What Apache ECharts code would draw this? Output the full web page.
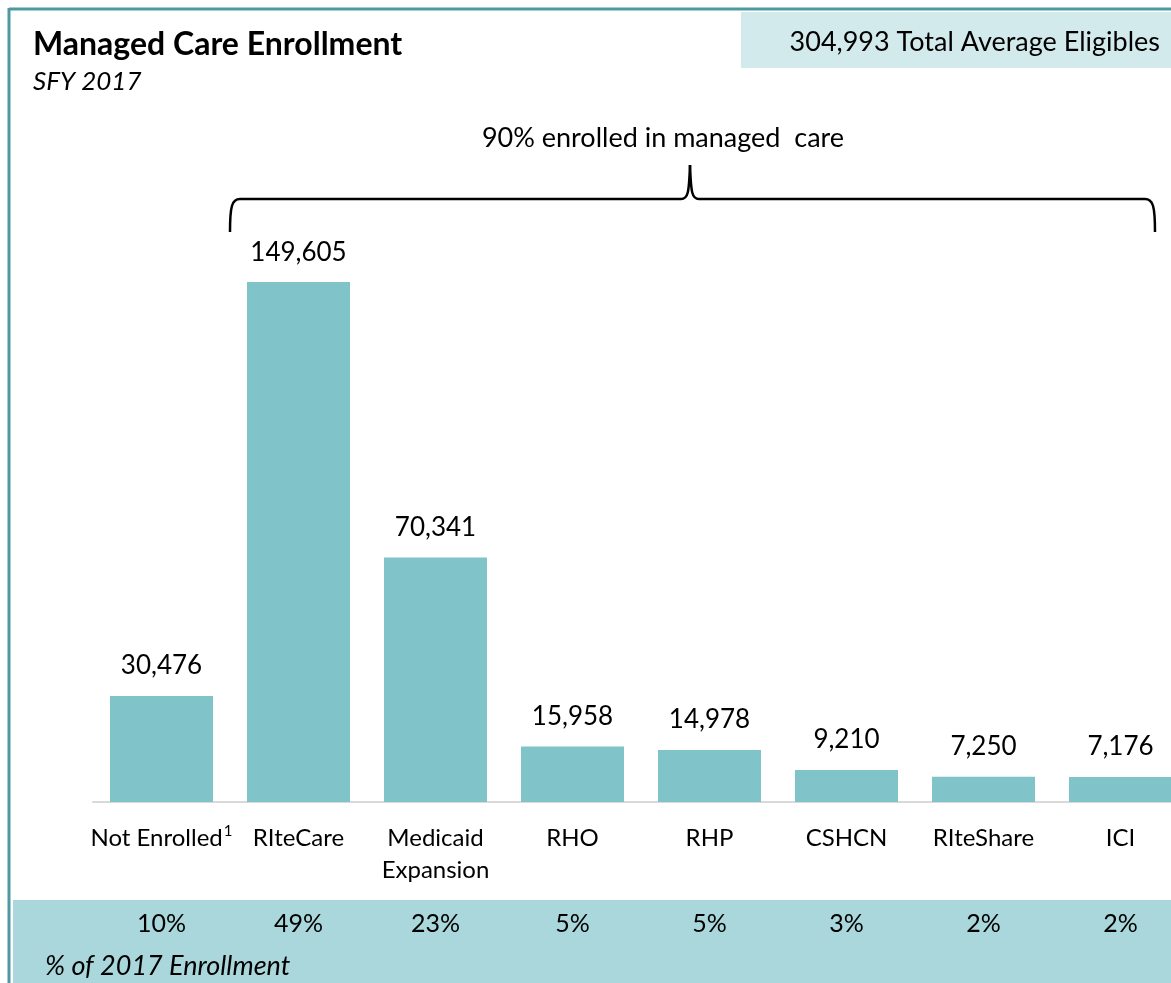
<!DOCTYPE html>
<html><head><meta charset="utf-8">
<script src="https://cdn.jsdelivr.net/npm/echarts@6/dist/echarts.min.js"></script>
<style>html,body{margin:0;padding:0;background:#fff;overflow:hidden;width:1171px;height:983px}#c{width:1189px;height:983px}</style>
</head><body><div id="c"></div>
<script>
var categories = ['Not Enrolled', 'RIteCare', 'Medicaid\nExpansion', 'RHO', 'RHP', 'CSHCN', 'RIteShare', 'ICI'];
var enrollment = [30476, 149605, 70341, 15958, 14978, 9210, 7250, 7176];
var pctLabels = ['10%', '49%', '23%', '5%', '5%', '3%', '2%', '2%'];
var titleText = 'Managed Care Enrollment';
var subtitleText = 'SFY 2017';
var totalText = '304,993 Total Average Eligibles';
var braceText = '90% enrolled in managed  care';
var bandText = '% of 2017 Enrollment';

var FONT = 'Lato';
var chart = echarts.init(document.getElementById('c'), null, {renderer: 'canvas'});
var black = {stroke: '#000', lineWidth: 2.5, fill: null};
chart.setOption({
  animation: false,
  backgroundColor: '#ffffff',
  textStyle: {fontFamily: FONT},
  grid: {left: 93, right: 0, top: 246, bottom: 181, containLabel: false},
  xAxis: [{
    type: 'category', data: categories, position: 'bottom',
    axisLine: {lineStyle: {color: '#d9d9d9', width: 2}},
    axisTick: {show: false},
    axisLabel: {
      interval: 0, margin: 20, color: '#000', fontSize: 24, fontFamily: FONT, lineHeight: 32,
      formatter: function (v, i) { return i === 0 ? '{a|' + v + '}{s|1}' : v; },
      rich: {
        a: {fontSize: 24, fontFamily: FONT, color: '#000', lineHeight: 32},
        s: {fontSize: 15, fontFamily: FONT, color: '#000', lineHeight: 32, padding: [0, 0, 14, 1]}
      }
    }
  }, {
    type: 'category', data: pctLabels, position: 'bottom', offset: 86,
    axisLine: {show: false}, axisTick: {show: false},
    axisLabel: {interval: 0, margin: 20, color: '#000', fontSize: 25, fontFamily: FONT, lineHeight: 32}
  }],
  yAxis: {type: 'value', min: 0, max: 160000, show: false, splitLine: {show: false}},
  series: [{
    type: 'bar', data: enrollment, xAxisIndex: 0, barWidth: 103,
    itemStyle: {color: '#80c4ca'},
    label: {show: true, position: 'top', distance: 17, color: '#000', fontSize: 26, fontFamily: FONT,
      formatter: function (p) { return p.value.toLocaleString('en-US'); }}
  }],
  graphic: [
    {type: 'rect', z: -10, shape: {x: 13, y: 900, width: 1180, height: 83}, style: {fill: '#a9d7db'}},
    {type: 'text', x: 45, y: 966, style: {text: bandText, font: 'italic 27px ' + FONT, fill: '#000', textVerticalAlign: 'middle'}},
    {type: 'line', shape: {x1: 9, y1: 9, x2: 1189, y2: 9}, style: {stroke: '#4e9aa2', lineWidth: 3}},
    {type: 'line', shape: {x1: 9, y1: 8, x2: 9, y2: 983}, style: {stroke: '#4e9aa2', lineWidth: 3}},
    {type: 'rect', shape: {x: 741, y: 12, width: 448, height: 56}, style: {fill: '#d3eaec'}},
    {type: 'text', x: 1160, y: 42, style: {text: totalText, font: '27px ' + FONT, fill: '#000', textAlign: 'right', textVerticalAlign: 'middle'}},
    {type: 'text', x: 33, y: 45, style: {text: titleText, font: 'bold 32px ' + FONT, fill: '#000', textVerticalAlign: 'middle'}},
    {type: 'text', x: 33, y: 82, style: {text: subtitleText, font: 'italic 26px ' + FONT, fill: '#000', textVerticalAlign: 'middle'}},
    {type: 'text', x: 663, y: 138, style: {text: braceText, font: '27px ' + FONT, fill: '#000', textAlign: 'center', textVerticalAlign: 'middle'}},
    {type: 'bezierCurve', shape: {x1: 230, y1: 232, cpx1: 230, cpy1: 206, cpx2: 232, cpy2: 199, x2: 240, y2: 199}, style: black},
    {type: 'line', shape: {x1: 240, y1: 199, x2: 681, y2: 199}, style: black},
    {type: 'bezierCurve', shape: {x1: 681, y1: 199, cpx1: 688, cpy1: 199, cpx2: 689, cpy2: 193, x2: 690, y2: 165}, style: black},
    {type: 'bezierCurve', shape: {x1: 690, y1: 165, cpx1: 691, cpy1: 193, cpx2: 692, cpy2: 199, x2: 699, y2: 199}, style: black},
    {type: 'line', shape: {x1: 699, y1: 199, x2: 1145, y2: 199}, style: black},
    {type: 'bezierCurve', shape: {x1: 1145, y1: 199, cpx1: 1153, cpy1: 199, cpx2: 1155, cpy2: 206, x2: 1155, y2: 232}, style: black}
  ]
});
</script></body></html>
